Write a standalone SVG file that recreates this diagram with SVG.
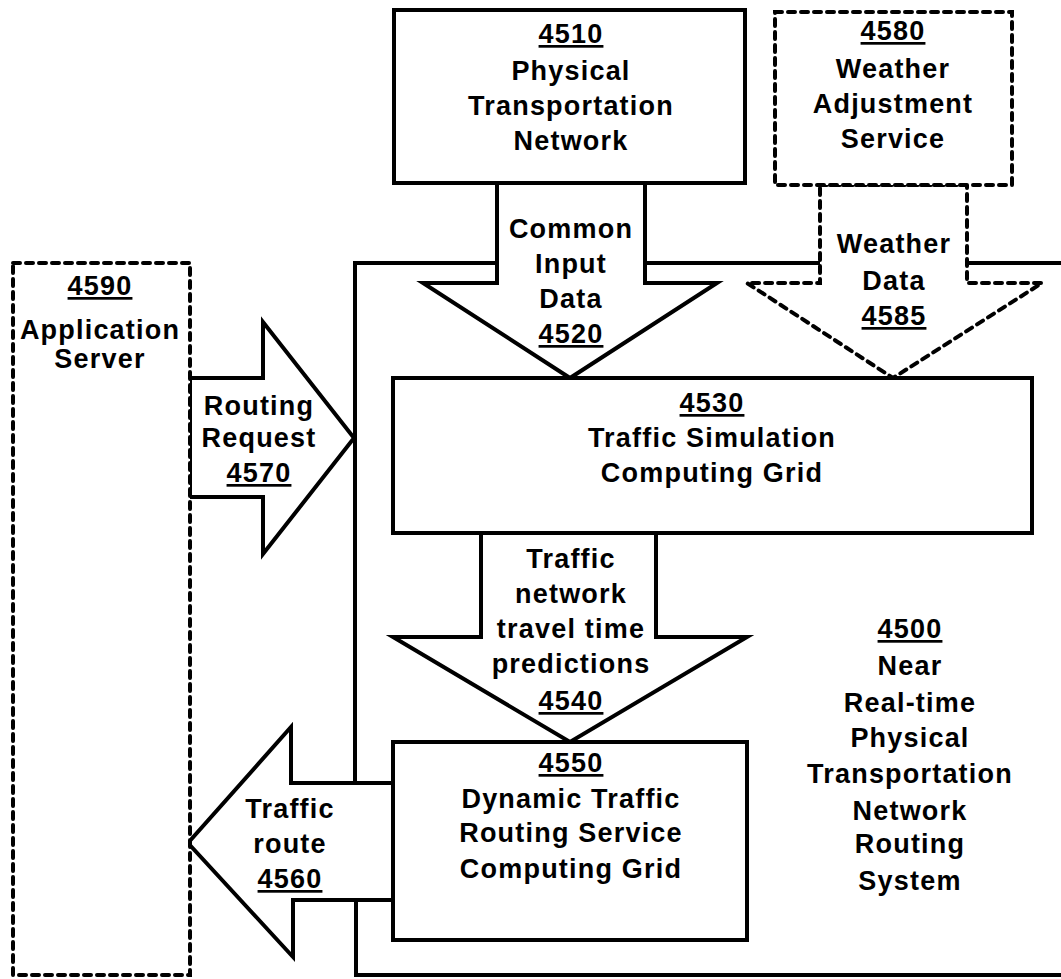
<svg xmlns="http://www.w3.org/2000/svg" width="1061" height="979" viewBox="0 0 1061 979">
<style>
.s{fill:#fff;stroke:#000;stroke-width:4;stroke-linejoin:miter}
.d{fill:#fff;stroke:#000;stroke-width:4;stroke-dasharray:7 6;stroke-linecap:round}
.ln{fill:none;stroke:#000;stroke-width:4}
text{font-family:"Liberation Sans",Arial,sans-serif;font-weight:bold;font-size:27px;letter-spacing:1.2px;text-anchor:middle;fill:#000}
.u{text-decoration:underline}
</style>
<rect width="1061" height="979" fill="#fff"/>
<g id="system-4500">
<path class="ln" d="M497,263 H355 V783 M356,900 V975 H1061 M645,263 H820 M967,263 H1061"/>
<text x="910" y="638" class="u">4500</text>
<text x="910" y="675">Near</text>
<text x="910" y="712">Real-time</text>
<text x="910" y="747">Physical</text>
<text x="910" y="783">Transportation</text>
<text x="910" y="820">Network</text>
<text x="910" y="853">Routing</text>
<text x="910" y="890">System</text>
</g>
<g id="connectors">
<g id="arrow-4520">
<polygon class="s" points="497,183 645,183 645,283 717,283 570,378 423,283 497,283"/>
<text x="571" y="238">Common</text>
<text x="571" y="273">Input</text>
<text x="571" y="308">Data</text>
<text x="571" y="343" class="u">4520</text>
</g>
<g id="arrow-4585">
<polygon class="d" points="820,185 967,185 967,283 1042,283 893,378 747,283 820,283"/>
<text x="894" y="253">Weather</text>
<text x="894" y="290">Data</text>
<text x="894" y="325" class="u">4585</text>
</g>
<g id="arrow-4540">
<polygon class="s" points="481,533 656,533 656,637 747,637 570,742 393,637 481,637"/>
<text x="571" y="568">Traffic</text>
<text x="571" y="603">network</text>
<text x="571" y="638">travel time</text>
<text x="571" y="673">predictions</text>
<text x="571" y="710" class="u">4540</text>
</g>
<g id="arrow-4570">
<polygon class="s" points="190,378 263,378 263,322 354,438 263,554 263,497 190,497"/>
<text x="259" y="415">Routing</text>
<text x="259" y="447">Request</text>
<text x="259" y="482" class="u">4570</text>
</g>
<g id="arrow-4560">
<polygon class="s" points="393,783 291,783 291,727 188,843 293,957 293,900 393,900"/>
<text x="290" y="818">Traffic</text>
<text x="290" y="853">route</text>
<text x="290" y="888" class="u">4560</text>
</g>
</g>
<g id="node-4510">
<rect class="s" x="394" y="10" width="351" height="173"/>
<text x="571" y="43" class="u">4510</text>
<text x="571" y="80">Physical</text>
<text x="571" y="115">Transportation</text>
<text x="571" y="150">Network</text>
</g>
<g id="node-4580">
<rect class="d" x="775" y="12" width="237" height="173"/>
<text x="893" y="40" class="u">4580</text>
<text x="893" y="78">Weather</text>
<text x="893" y="113">Adjustment</text>
<text x="893" y="148">Service</text>
</g>
<g id="node-4590">
<rect class="d" x="13" y="263" width="177" height="712"/>
<text x="100" y="295" class="u">4590</text>
<text x="100" y="339">Application</text>
<text x="100" y="368">Server</text>
</g>
<g id="node-4530">
<rect class="s" x="393" y="378" width="639" height="155"/>
<text x="712" y="412" class="u">4530</text>
<text x="712" y="447">Traffic Simulation</text>
<text x="712" y="482">Computing Grid</text>
</g>
<g id="node-4550">
<rect class="s" x="393" y="742" width="354" height="198"/>
<text x="571" y="772" class="u">4550</text>
<text x="571" y="808">Dynamic Traffic</text>
<text x="571" y="842">Routing Service</text>
<text x="571" y="878">Computing Grid</text>
</g>
</svg>
